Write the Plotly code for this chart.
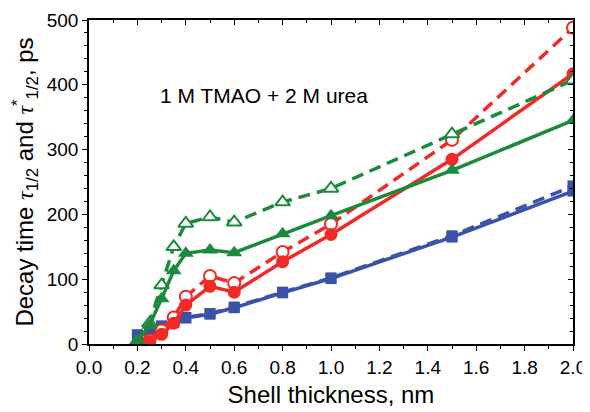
import plotly.graph_objects as go

# Shell thickness (nm)
x_all = [0.2, 0.25, 0.3, 0.35, 0.4, 0.5, 0.6, 0.8, 1.0, 1.5, 2.0]
x_red = [0.25, 0.3, 0.35, 0.4, 0.5, 0.6, 0.8, 1.0, 1.5, 2.0]

# Decay times (ps)
blue_tau = [14, 19, 26, 33, 40, 46, 56, 79, 101, 165, 236]
blue_tau_star = [14, 20, 28, 35, 41, 47, 57, 80, 102, 167, 244]
red_tau = [4, 15, 32, 60, 89, 80, 127, 169, 285, 417]
red_tau_star = [6, 21, 41, 73, 105, 94, 142, 185, 315, 488]
green_tau = [4, 29, 70, 113, 140, 145, 141, 170, 198, 268, 345]
green_tau_star = [4, 32, 91, 150, 186, 196, 188, 219, 240, 324, 407]

BLUE = "#3a52a8"
RED = "#f02a26"
GREEN = "#1c8a3c"
FONT = "Liberation Sans, Arial, sans-serif"

fig = go.Figure()


def add(x, y, color, symbol, filled, dashed, size):
    fig.add_trace(go.Scatter(
        x=x, y=y, mode="lines+markers",
        line=dict(color=color, width=3.5, dash="12px,7px" if dashed else "solid"),
        marker=dict(symbol=symbol, size=size,
                    color=color if filled else "white",
                    line=dict(color=color, width=0 if filled else 2)),
        showlegend=False,
    ))


add(x_all, blue_tau_star, BLUE, "square", True, True, 11)
add(x_all, blue_tau, BLUE, "square", True, False, 11)
add(x_red, red_tau_star, RED, "circle", False, True, 12)
add(x_red, red_tau, RED, "circle", True, False, 13)
add(x_all, green_tau_star, GREEN, "triangle-up", False, True, 13)
add(x_all, green_tau, GREEN, "triangle-up", True, False, 14)

fig.add_annotation(x=0.285, y=384, xref="x", yref="y", xanchor="left", yanchor="middle",
                   text="1 M TMAO + 2 M urea", showarrow=False,
                   font=dict(family=FONT, size=21, color="black"))

axis_common = dict(showgrid=False, zeroline=False, linecolor="black", linewidth=1.5,
                   ticklen=5, tickwidth=1.2, tickcolor="black", automargin=False)

# page body adds an 8px margin, so the figure is a bit smaller than the window
fig.update_layout(
    width=582, height=404,
    margin=dict(l=81, r=17, t=12, b=68),
    paper_bgcolor="white", plot_bgcolor="white",
    font=dict(family=FONT, color="black"),
    xaxis=dict(range=[0, 2.0], dtick=0.2, tickformat=".1f", ticks="outside",
               minor=dict(dtick=0.1, ticks="outside", ticklen=3, tickcolor="black"),
               tickfont=dict(size=19), mirror=True,
               title=dict(text="Shell thickness, nm", font=dict(size=24), standoff=10),
               **axis_common),
    yaxis=dict(range=[0, 500], dtick=100, ticks="outside",
               minor=dict(dtick=20, ticks="outside", ticklen=3, tickcolor="black"),
               tickfont=dict(size=19), mirror=True,
               title=dict(text="Decay time <span style='font-family:Liberation Serif'><i>τ</i></span><sub>1/2</sub> and "
                               "<span style='font-family:Liberation Serif'><i>τ</i></span><sup>*</sup><sub>1/2</sub>, ps",
                          font=dict(size=24), standoff=8),
               **axis_common),
    xaxis2=dict(overlaying="x", side="top", matches="x", range=[0, 2.0], dtick=0.2,
                ticks="inside", showticklabels=False,
                minor=dict(dtick=0.1, ticks="inside", ticklen=3, tickcolor="black"),
                **axis_common),
    yaxis2=dict(overlaying="y", side="right", range=[0, 500], dtick=100,
                ticks="inside", showticklabels=False,
                minor=dict(dtick=20, ticks="inside", ticklen=3, tickcolor="black"),
                **axis_common),
)

# invisible trace to show the mirrored inner tick axes
fig.add_trace(go.Scatter(x=[None], y=[None], xaxis="x2", yaxis="y2", showlegend=False))

fig.write_html("out.html")
